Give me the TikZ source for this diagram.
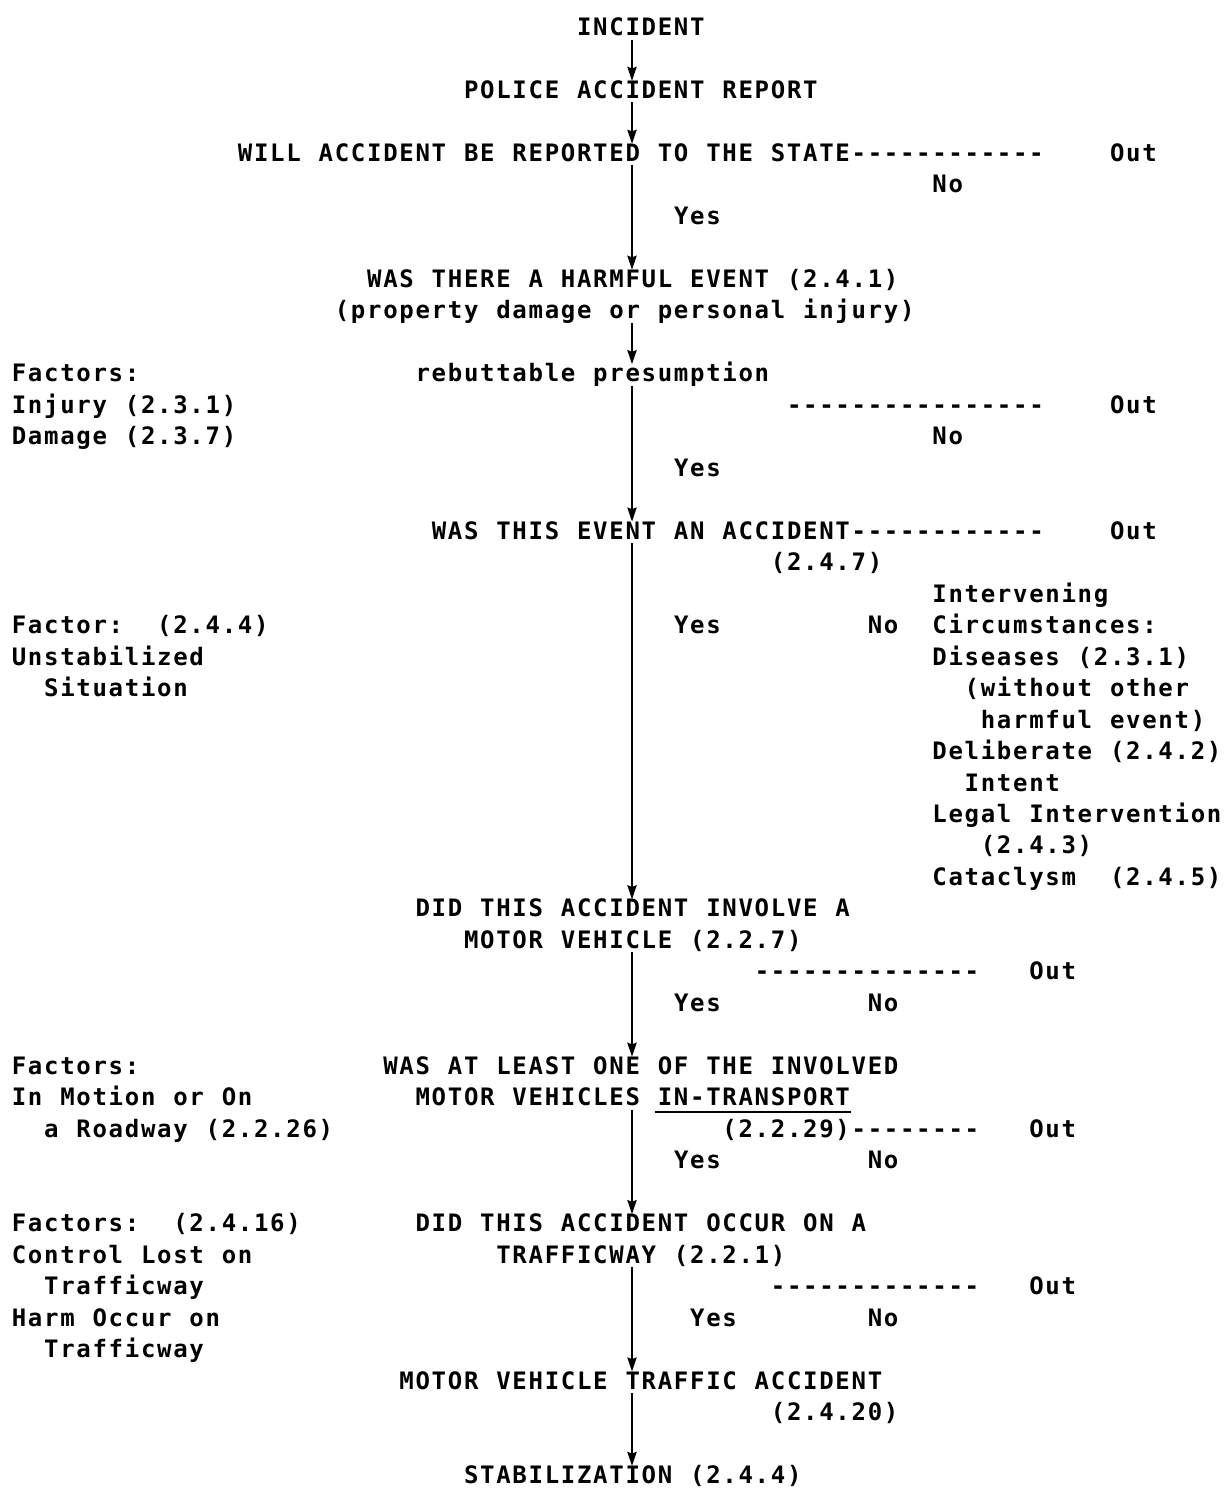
\documentclass[tikz,border=0pt]{standalone}
\usepackage{fontspec}
\usetikzlibrary{arrows.meta,calc}
\newfontfamily\twfont{DejaVu Sans Mono}
\ExplSyntaxOn
\dim_new:N \l_tw_cell_dim
\dim_set:Nn \l_tw_cell_dim {16.15pt}
\NewDocumentCommand\tw{m}
 {
  \str_map_inline:nn {#1}
   {
    \str_if_eq:nnTF {##1} {@}
     { \hbox_to_wd:nn { \l_tw_cell_dim } { \hfil } }
     { \hbox_to_wd:nn { \l_tw_cell_dim } { \hfil ##1 \hfil } }
   }
 }
\ExplSyntaxOff
\newcommand\putline[4]{\node[tw] (#1) at ({11+#2*16.15},{35.5+#3*31.48}) {\tw{#4}};}
\begin{document}
\begin{tikzpicture}[x=1pt,y=-1pt,
  tw/.style={inner sep=0pt, outer sep=0pt, anchor=base west, text height=17.5pt, text depth=0pt,
    font=\twfont\bfseries\fontsize{24}{28}\selectfont},
  conn/.style={line width=2.6pt, -{Stealth[length=14pt,width=9pt,inset=1.5pt]}},
  ulstyle/.style={line width=2pt}]
\useasboundingbox (0,0) rectangle (1226,1489);
\coordinate (vx) at (632,0);
\putline{incident}{35}{0}{INCIDENT}
\putline{police}{28}{2}{POLICE ACCIDENT REPORT}
\putline{state}{14}{4}{WILL ACCIDENT BE REPORTED TO THE STATE------------}
\putline{out1}{68}{4}{Out}
\putline{no1}{57}{5}{No}
\putline{yes1}{41}{6}{Yes}
\putline{harm}{22}{8}{WAS THERE A HARMFUL EVENT (2.4.1)}
\putline{harmb}{20}{9}{(property damage or personal injury)}
\putline{fac1}{0}{11}{Factors:}
\putline{rebut}{25}{11}{rebuttable presumption}
\putline{fac1a}{0}{12}{Injury (2.3.1)}
\putline{dash2}{48}{12}{----------------}
\putline{out2}{68}{12}{Out}
\putline{fac1b}{0}{13}{Damage (2.3.7)}
\putline{no2}{57}{13}{No}
\putline{yes2}{41}{14}{Yes}
\putline{acc}{26}{16}{WAS THIS EVENT AN ACCIDENT------------}
\putline{out3}{68}{16}{Out}
\putline{accb}{47}{17}{(2.4.7)}
\putline{int1}{57}{18}{Intervening}
\putline{fac2}{0}{19}{Factor:@@(2.4.4)}
\putline{yes3}{41}{19}{Yes}
\putline{no3}{53}{19}{No}
\putline{int2}{57}{19}{Circumstances:}
\putline{fac2a}{0}{20}{Unstabilized}
\putline{int3}{57}{20}{Diseases (2.3.1)}
\putline{fac2b}{2}{21}{Situation}
\putline{int4}{59}{21}{(without other}
\putline{int5}{60}{22}{harmful event)}
\putline{int6}{57}{23}{Deliberate (2.4.2)}
\putline{int7}{59}{24}{Intent}
\putline{int8}{57}{25}{Legal Intervention}
\putline{int9}{60}{26}{(2.4.3)}
\putline{int10}{57}{27}{Cataclysm@@(2.4.5)}
\putline{mv}{25}{28}{DID THIS ACCIDENT INVOLVE A}
\putline{mvb}{28}{29}{MOTOR VEHICLE (2.2.7)}
\putline{dash4}{46}{30}{--------------}
\putline{out4}{63}{30}{Out}
\putline{yes4}{41}{31}{Yes}
\putline{no4}{53}{31}{No}
\putline{fac3}{0}{33}{Factors:}
\putline{tr}{23}{33}{WAS AT LEAST ONE OF THE INVOLVED}
\putline{fac3a}{0}{34}{In Motion or On}
\putline{trb}{25}{34}{MOTOR VEHICLES IN-TRANSPORT}
\putline{fac3b}{2}{35}{a Roadway (2.2.26)}
\putline{trc}{44}{35}{(2.2.29)--------}
\putline{out5}{63}{35}{Out}
\putline{yes5}{41}{36}{Yes}
\putline{no5}{53}{36}{No}
\putline{fac4}{0}{38}{Factors:@@(2.4.16)}
\putline{tw1}{25}{38}{DID THIS ACCIDENT OCCUR ON A}
\putline{fac4a}{0}{39}{Control Lost on}
\putline{tw2}{30}{39}{TRAFFICWAY (2.2.1)}
\putline{fac4b}{2}{40}{Trafficway}
\putline{dash6}{47}{40}{-------------}
\putline{out6}{63}{40}{Out}
\putline{fac4c}{0}{41}{Harm Occur on}
\putline{yes6}{42}{41}{Yes}
\putline{no6}{53}{41}{No}
\putline{fac4d}{2}{42}{Trafficway}
\putline{mvta}{24}{43}{MOTOR VEHICLE TRAFFIC ACCIDENT}
\putline{mvtab}{47}{44}{(2.4.20)}
\putline{stab}{28}{46}{STABILIZATION (2.4.4)}
% underline of IN-TRANSPORT
\draw[ulstyle] ($(trb.base west)+(15*16.15-2,6)$) -- ++(12*16.15+2,0);
% main flow connectors
\draw[conn] ([yshift=-4pt]incident.south -| vx) -- (police.north -| vx);
\draw[conn] ([yshift=-4pt]police.south -| vx) -- (state.north -| vx);
\draw[conn] ([yshift=-4pt]state.south -| vx) -- (harm.north -| vx);
\draw[conn] ([yshift=-4pt]harmb.south -| vx) -- (rebut.north -| vx);
\draw[conn] ([yshift=-4pt]rebut.south -| vx) -- (acc.north -| vx);
\draw[conn] ([yshift=-4pt]acc.south -| vx) -- (mv.north -| vx);
\draw[conn] ([yshift=-4pt]mvb.south -| vx) -- (tr.north -| vx);
\draw[conn] ([yshift=-4pt]trb.south -| vx) -- (tw1.north -| vx);
\draw[conn] ([yshift=-4pt]tw2.south -| vx) -- (mvta.north -| vx);
\draw[conn] ([yshift=-4pt]mvta.south -| vx) -- (stab.north -| vx);
\end{tikzpicture}
\end{document}
